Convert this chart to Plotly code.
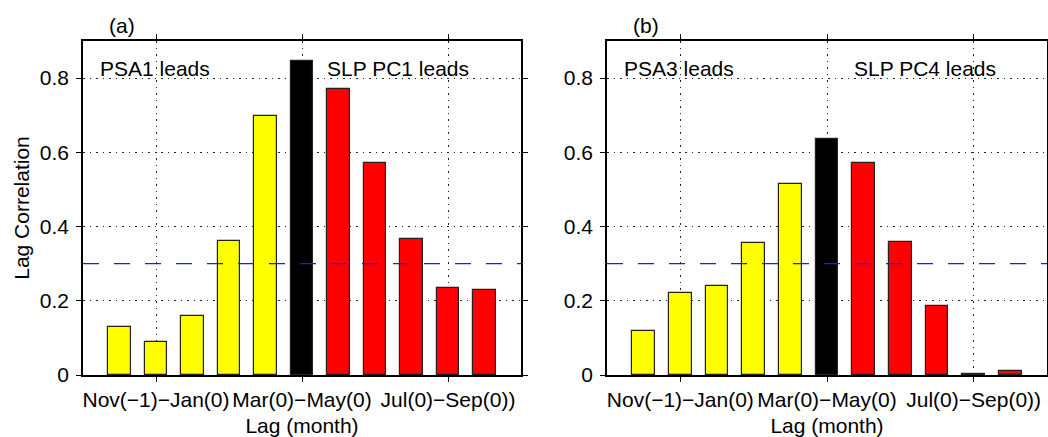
import plotly.graph_objects as go

lags = [-5, -4, -3, -2, -1, 0, 1, 2, 3, 4, 5]
corr_a = [0.130, 0.088, 0.158, 0.362, 0.698, 0.846, 0.772, 0.570, 0.366, 0.235, 0.229]
corr_b = [0.119, 0.222, 0.241, 0.355, 0.515, 0.637, 0.571, 0.359, 0.185, 0.002, 0.010]
tick_vals = [-4, 0, 4]
tick_text = ["Nov(\u22121)\u2212Jan(0)", "Mar(0)\u2212May(0)", "Jul(0)\u2212Sep(0))"]
y_ticks = [0, 0.2, 0.4, 0.6, 0.8]
y_tick_text = ["0", "0.2", "0.4", "0.6", "0.8"]
sig_level = 0.3
panel_titles = ["(a)", "(b)"]
lead_left = ["PSA1 leads", "PSA3 leads"]
lead_right = ["SLP PC1 leads", "SLP PC4 leads"]

def bar_color(l):
    if l < 0:
        return "#FFFF00"
    if l == 0:
        return "#000000"
    return "#FF0000"

colors = [bar_color(l) for l in lags]
FONT = "Liberation Sans, Arial, Helvetica, sans-serif"
FS = 21

fig = go.Figure()
for i, vals in enumerate([corr_a, corr_b]):
    xa = "x" if i == 0 else "x2"
    ya = "y" if i == 0 else "y2"
    fig.add_trace(go.Bar(
        x=lags, y=vals, xaxis=xa, yaxis=ya, width=0.62,
        marker=dict(color=colors, line=dict(color="#222222", width=1.2)),
        showlegend=False, hoverinfo="skip",
    ))
    fig.add_trace(go.Scatter(
        x=[-6, 6], y=[sig_level, sig_level], xaxis=xa, yaxis=ya, mode="lines",
        line=dict(color="#1a1aff", width=1.2, dash="16px,15px"), showlegend=False,
        hoverinfo="skip",
    ))

axis_common = dict(
    showline=True, linecolor="black", linewidth=1.5, mirror="ticks",
    ticks="outside", ticklen=5, tickcolor="black", automargin=False,
    showgrid=True, gridcolor="#222222", gridwidth=1, griddash="1.5px,5px",
    zeroline=False, tickfont=dict(family=FONT, size=FS, color="black"),
)

fig.update_layout(
    width=1048, height=437,
    margin=dict(l=0, r=0, t=0, b=0),
    plot_bgcolor="white", paper_bgcolor="white",
    font=dict(family=FONT, size=FS, color="black"),
    bargap=0,
    xaxis=dict(domain=[83/1048, 521/1048], range=[-6, 6], tickvals=tick_vals, ticktext=tick_text,
               title=dict(text="Lag (month)", standoff=9, font=dict(size=FS)), anchor="y", **axis_common),
    xaxis2=dict(domain=[607/1048, 1047/1048], range=[-6, 6], tickvals=tick_vals, ticktext=tick_text,
                title=dict(text="Lag (month)", standoff=9, font=dict(size=FS)), anchor="y2", **axis_common),
    yaxis=dict(domain=[62/437, 396/437], range=[0, 0.9], tickvals=y_ticks, ticktext=y_tick_text,
               ticklabelstandoff=3,
               title=dict(text="Lag Correlation", standoff=4, font=dict(size=FS)), anchor="x", **axis_common),
    yaxis2=dict(domain=[62/437, 396/437], range=[0, 0.9], tickvals=y_ticks, ticktext=y_tick_text,
                ticklabelstandoff=3, anchor="x2", **axis_common),
)

for i in range(2):
    xr = "x" if i == 0 else "x2"
    yr = "y" if i == 0 else "y2"
    fig.add_annotation(text=lead_left[i], x=-5.59, y=0.827, xref=xr, yref=yr,
                       xanchor="left", yanchor="middle", showarrow=False, font=dict(size=FS))
    fig.add_annotation(text=lead_right[i], x=0.62 if i == 0 else 0.67, y=0.827, xref=xr, yref=yr,
                       xanchor="left", yanchor="middle", showarrow=False, font=dict(size=FS))
    fig.add_annotation(text=panel_titles[i], x=(107 if i == 0 else 631)/1048, y=(437-25)/437,
                       xref="paper", yref="paper", xanchor="left", yanchor="middle",
                       showarrow=False, font=dict(size=FS))

fig.write_html("out.html", config={"displayModeBar": False},
               post_script="document.body.style.margin='0';document.body.style.padding='0';")
